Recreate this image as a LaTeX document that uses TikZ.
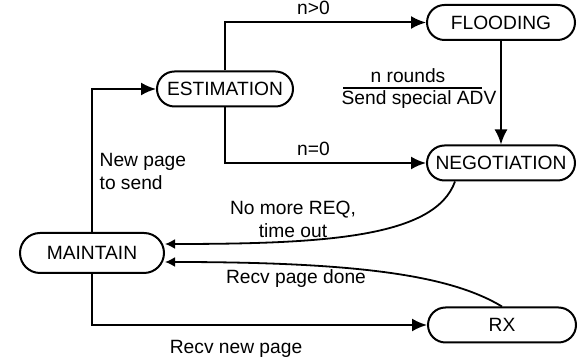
\documentclass[tikz,border=0pt]{standalone}
\usepackage{fontspec}
\setmainfont{Liberation Sans}
\usetikzlibrary{arrows.meta,shapes.misc}

\begin{document}
\begin{tikzpicture}[x=0.5pt,y=-0.5pt,
    every node/.style={font=\fontsize{9.6}{11.5}\selectfont},
    state/.style={draw, rounded rectangle, line width=1pt, minimum height=17.5pt, minimum width=78pt, inner sep=2pt},
    arr/.style={line width=1pt, -{Latex[length=7.5pt,width=6.5pt]}},
    carr/.style={line width=0.9pt, -{Latex[length=5pt,width=5pt]}},
    lbl/.style={align=center}]
    \useasboundingbox (0,0) rectangle (584,362);
    % states
    \node[state, minimum width=72pt] (est) at (225,89) {ESTIMATION};
    \node[state] (flood) at (501,22.5) {FLOODING};
    \node[state] (neg) at (501,163) {NEGOTIATION};
    \node[state, minimum width=76pt, minimum height=20pt] (maint) at (92,253) {MAINTAIN};
    \node[state] (rx) at (502,325) {RX};
    % transitions
    \draw[arr] (est.north) |- (flood.west) node[pos=0.72, above] {n>0};
    \draw[arr] (est.south) |- (neg.west) node[pos=0.72, above] {n=0};
    \draw[arr] (flood.south) -- (neg.north);
    \node[lbl] (rounds) at (408,76) {n rounds};
    \node[lbl] (adv) at (419,100) {Send special ADV};
    \draw[line width=0.8pt] (343,88) -- (482,88);
    \draw[arr] (maint.north) |- (est.west) node[pos=0.21, right, align=left] {New page\\to send};
    \draw[arr] (maint.south) |- (rx.west) node[pos=0.715, below=4pt] {Recv new page};
    \draw[carr] ([xshift=-23pt]neg.south) .. controls +(-10pt,-28pt) and +(80pt,0pt) .. ([yshift=4.5pt]maint.east);
    \node[lbl] (noreq) at (293,219) {No more REQ,\\time out};
    \draw[carr] (rx.north) .. controls +(-25pt,15pt) and +(100pt,0pt) .. ([yshift=-4.5pt]maint.east);
    \node[lbl] (done) at (296,279) {Recv page done};
\end{tikzpicture}
\end{document}
